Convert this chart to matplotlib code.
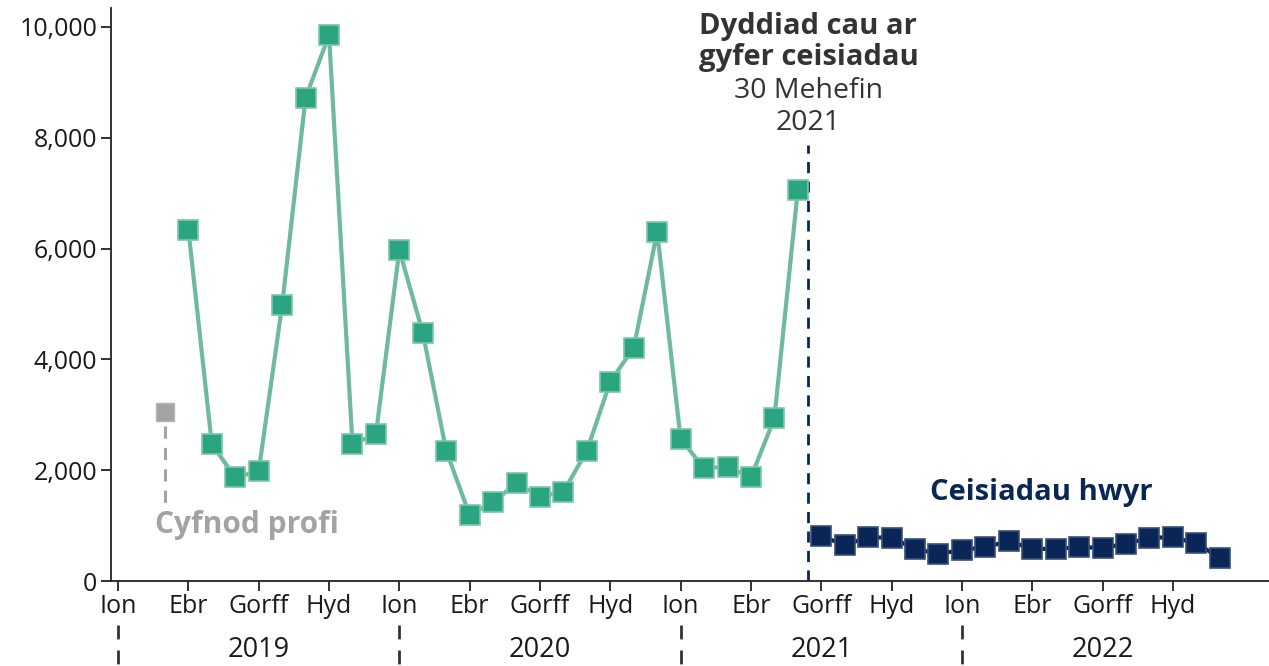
import matplotlib
matplotlib.use("Agg")
import matplotlib.pyplot as plt
import matplotlib.transforms as mtransforms

plt.rcParams['font.family'] = ['Open Sans', 'DejaVu Sans']

# ---- data ----
months = [f"{y}-{m:02d}" for y in (2019, 2020, 2021, 2022) for m in range(1, 13)]
tick_months = {1: "Ion", 4: "Ebr", 7: "Gorff", 10: "Hyd"}
years = ["2019", "2020", "2021", "2022"]

trial_months = ["2019-03"]
trial_values = [3050]

main_months = months[3:30]
main_values = [6340, 2470, 1870, 1980, 4980, 8720, 9850, 2470, 2650,
               5970, 4480, 2350, 1190, 1420, 1770, 1520, 1610, 2350, 3600, 4210, 6300,
               2560, 2040, 2060, 1870, 2940, 7060]

late_months = months[30:48]
late_values = [810, 650, 790, 780, 580, 490,
               560, 610, 720, 580, 580, 610, 600, 670, 780, 790, 680, 420]

deadline_pos = 29.45  # 30 June 2021, in month-index units

GREEN = "#2ba482"
GREEN_LINE = "#6dbb9c"
NAVY = "#0a2656"
GREY = "#a3a3a3"
DARK = "#333333"

idx = {m: i for i, m in enumerate(months)}

fig = plt.figure(figsize=(12.69, 6.66), dpi=100)
ax = fig.add_axes([0.0875, 0.1276, 0.9125, 0.8604])

# trial point
tx = [idx[m] for m in trial_months]
ax.plot(tx, trial_values, linestyle="none", marker="s", markersize=13.5,
        color=GREY, markeredgecolor="#b5b5b5", markeredgewidth=1)
ax.plot([tx[0], tx[0]], [trial_values[0] - 250, 1370], color=GREY, lw=2.2,
        linestyle=(0, (4, 3)))
ax.text(tx[0] - 0.42, 1010, "Cyfnod profi", color=GREY, fontsize=21.5,
        fontweight="bold", ha="left", va="center")

# main series
mx = [idx[m] for m in main_months]
ax.plot(mx, main_values, color=GREEN_LINE, lw=3, zorder=2)
ax.plot(mx, main_values, linestyle="none", marker="s", markersize=14,
        color=GREEN, markeredgecolor="#7cc7a9", markeredgewidth=1.2, zorder=3)

# late series
lx = [idx[m] for m in late_months]
ax.plot(lx, late_values, color=NAVY, lw=3, zorder=2)
ax.plot(lx, late_values, linestyle="none", marker="s", markersize=14,
        color=NAVY, markeredgecolor="#3a4f78", markeredgewidth=1.2, zorder=3)
ax.text(39.4, 1606, "Ceisiadau hwyr", color=NAVY, fontsize=21,
        fontweight="bold", ha="center", va="center")

# deadline
ax.plot([deadline_pos, deadline_pos], [0, 7870], color=NAVY, lw=2,
        linestyle=(0, (4, 3)), zorder=1)
ax.text(deadline_pos, 10000, "Dyddiad cau ar", color=DARK,
        fontsize=21, fontweight="bold", ha="center", va="center")
ax.text(deadline_pos, 9440, "gyfer ceisiadau", color=DARK,
        fontsize=21, fontweight="bold", ha="center", va="center")
ax.text(deadline_pos, 8845, "30 Mehefin", color=DARK,
        fontsize=20.5, ha="center", va="center")
ax.text(deadline_pos, 8267, "2021", color=DARK,
        fontsize=20.5, ha="center", va="center")

ax.set_xlim(-0.3, 49.1)
ax.set_ylim(0, 10340)
ax.set_yticks([0, 2000, 4000, 6000, 8000, 10000])
ax.set_yticklabels([f"{v:,}" for v in [0, 2000, 4000, 6000, 8000, 10000]])

xt = [i for i, m in enumerate(months) if int(m[5:]) in tick_months]
ax.set_xticks(xt)
ax.set_xticklabels([tick_months[int(months[i][5:])] for i in xt])

for s in ("top", "right"):
    ax.spines[s].set_visible(False)
for s in ("left", "bottom"):
    ax.spines[s].set_color("#222222")
    ax.spines[s].set_linewidth(1.3)
ax.tick_params(axis="both", labelsize=18, colors="#222222", length=7, width=1.3,
               labelcolor="#1a1a1a")
ax.tick_params(axis="x", pad=2)
ax.tick_params(axis="y", pad=3)

# year labels and separators
trans = mtransforms.blended_transform_factory(ax.transData, fig.transFigure)
for k, y in enumerate(years):
    jan = idx[f"{y}-01"]
    ax.plot([jan, jan], [0.062, 0.0], transform=trans, color="#333333", lw=2,
            linestyle=(0, (5, 4)), clip_on=False)
    ax.text(jan + 6, 0.024, y, transform=trans, ha="center", va="center",
            fontsize=19.5, color="#1a1a1a")

fig.savefig("out.png", dpi=100)
